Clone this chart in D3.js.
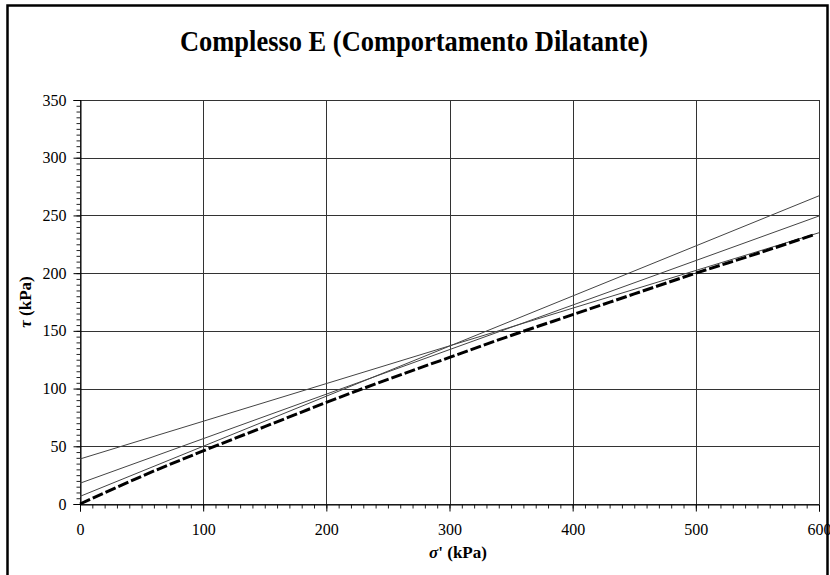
<!DOCTYPE html>
<html><head><meta charset="utf-8">
<script src="https://cdn.jsdelivr.net/npm/d3@7"></script>
<style>body{margin:0;background:#fff}svg{display:block}</style>
</head><body><svg id="c" width="830" height="575"></svg>
<script>
const title = "Complesso E (Comportamento Dilatante)";
const xTicks = [0, 100, 200, 300, 400, 500, 600];
const yTicks = [0, 50, 100, 150, 200, 250, 300, 350];
// envelope (thick dashed)
const envSigma = [0, 50, 100, 150, 200, 250, 300, 350, 400, 450, 500, 550, 595];
const envTau   = [0, 24, 46, 67, 88, 108, 127, 146, 164, 182, 200, 217, 233];
// straight thin lines: [sigma, tau] endpoints
const lineASigma = [0, 600], lineATau = [39, 235];
const lineBSigma = [0, 600], lineBTau = [18, 249.5];
const lineCSigma = [0, 600], lineCTau = [6.6, 267];

const svg = d3.select("#c");
const L = 80, R = 819, T = 100, B = 504;
const x = d3.scaleLinear().domain([0, 600]).range([L, R]);
const y = d3.scaleLinear().domain([0, 350]).range([B, T]);
const serif = "Liberation Serif, Times New Roman, serif";

// frame
svg.append("rect").attr("x", 7.5).attr("y", 5.5).attr("width", 820).attr("height", 600)
  .attr("fill", "none").attr("stroke", "#000").attr("stroke-width", 2.5);

svg.append("text").attr("x", 414).attr("y", 51).attr("text-anchor", "middle")
  .attr("font-family", serif).attr("font-weight", "bold").attr("font-size", 29)
  .attr("textLength", 468).attr("lengthAdjust", "spacingAndGlyphs").text(title);

// grid
const g = svg.append("g");
g.selectAll("line.gx").data(xTicks).join("line")
  .attr("x1", d => Math.round(x(d)) + 0.5).attr("x2", d => Math.round(x(d)) + 0.5)
  .attr("y1", T).attr("y2", B).attr("stroke", "#333").attr("stroke-width", 1);
g.selectAll("line.gy").data(yTicks).join("line")
  .attr("y1", d => Math.round(y(d)) + 0.5).attr("y2", d => Math.round(y(d)) + 0.5)
  .attr("x1", L).attr("x2", R).attr("stroke", "#333").attr("stroke-width", 1);

// axes
const xAxis = d3.axisBottom(x).tickValues(d3.range(0, 601, 10)).tickSize(4).tickFormat("");
const xa = svg.append("g").attr("transform", `translate(0,${Math.round(B)+0.5})`).call(xAxis);
xa.select(".domain").remove();
xa.selectAll("line").attr("stroke", "#222");
const xMaj = d3.axisBottom(x).tickValues(xTicks).tickSize(7).tickPadding(12);
const xm = svg.append("g").attr("transform", `translate(0,${Math.round(B)+0.5})`)
  .attr("font-family", serif).attr("font-size", 16).call(xMaj);
xm.select(".domain").attr("stroke", "#000");
xm.selectAll("text").attr("font-family", serif).attr("font-size", 16).attr("fill", "#000");

const yAxis = d3.axisLeft(y).tickValues(d3.range(0, 351, 5)).tickSize(4).tickFormat("");
const ya = svg.append("g").attr("transform", `translate(${L+0.5},0)`).call(yAxis);
ya.select(".domain").remove();
ya.selectAll("line").attr("stroke", "#222");
const yMaj = d3.axisLeft(y).tickValues(yTicks).tickSize(7).tickPadding(7);
const ym = svg.append("g").attr("transform", `translate(${L+0.5},0)`)
  .attr("font-family", serif).attr("font-size", 16).call(yMaj);
ym.select(".domain").attr("stroke", "#000");
ym.selectAll("text").attr("font-family", serif).attr("font-size", 16).attr("fill", "#000");

// thin lines
const lineGen = d3.line().x(d => x(d[0])).y(d => y(d[1]));
[[lineASigma, lineATau], [lineBSigma, lineBTau], [lineCSigma, lineCTau]].forEach(([s, t]) => {
  svg.append("path").attr("d", lineGen(s.map((v, i) => [v, t[i]])))
    .attr("fill", "none").attr("stroke", "#444").attr("stroke-width", 1);
});
// envelope
svg.append("path").attr("d", d3.line().curve(d3.curveMonotoneX).x(d => x(d[0])).y(d => y(d[1]))(envSigma.map((v, i) => [v, envTau[i]])))
  .attr("fill", "none").attr("stroke", "#000").attr("stroke-width", 3)
  .attr("stroke-dasharray", "11,3");

// axis titles
const xt = svg.append("text").attr("x", 458).attr("y", 558).attr("text-anchor", "middle")
  .attr("font-family", serif).attr("font-weight", "bold").attr("font-size", 17);
xt.append("tspan").attr("font-style", "italic").text("σ");
xt.append("tspan").text("' (kPa)");
const yt = svg.append("text").attr("transform", "translate(31,302) rotate(-90)").attr("text-anchor", "middle")
  .attr("font-family", serif).attr("font-weight", "bold").attr("font-size", 17);
yt.append("tspan").attr("font-style", "italic").text("τ");
yt.append("tspan").text(" (kPa)");
</script></body></html>
